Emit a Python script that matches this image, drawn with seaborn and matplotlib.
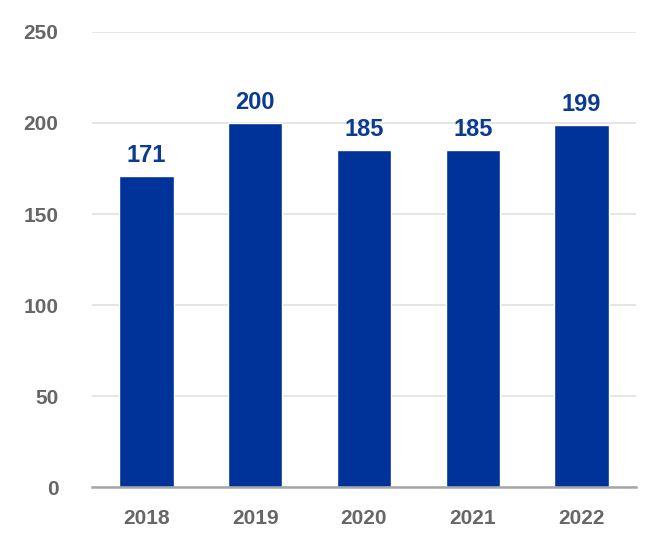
import matplotlib
matplotlib.use("Agg")
import matplotlib.pyplot as plt
import seaborn as sns
import pandas as pd
from matplotlib import font_manager

years = ["2018", "2019", "2020", "2021", "2022"]
counts = [171, 200, 185, 185, 199]
y_ticks = [0, 50, 100, 150, 200, 250]

bar_color = "#003399"
label_color = "#0a3a94"
tick_color = "#666666"

sns.set_theme(style="white")
names = {f.name for f in font_manager.fontManager.ttflist}
family = ["Liberation Sans Narrow", "Liberation Sans", "DejaVu Sans"]
plt.rcParams["font.family"] = [f for f in family if f in names] or ["DejaVu Sans"]

df = pd.DataFrame({"year": years, "count": counts})

fig, ax = plt.subplots(figsize=(6.66, 5.60), dpi=100)
fig.subplots_adjust(left=0.138, right=0.955, top=0.943, bottom=0.13)

sns.barplot(data=df, x="year", y="count", color=bar_color, saturation=1,
            width=0.5, ax=ax, zorder=3)

for p, v in zip(ax.patches, counts):
    ax.text(p.get_x() + p.get_width() / 2, v + 5, str(v), ha="center", va="bottom",
            fontsize=17, fontweight="bold", color=label_color)

ax.set_ylim(0, 250)
ax.set_yticks(y_ticks)
ax.yaxis.grid(True, color="#e3e3e3", linewidth=1.3, zorder=0)
ax.set_xlabel("")
ax.set_ylabel("")
for s in ["top", "right", "left"]:
    ax.spines[s].set_visible(False)
ax.spines["bottom"].set_color("#a6a6a6")
ax.spines["bottom"].set_linewidth(1.8)
ax.spines["bottom"].set_zorder(4)
ax.tick_params(axis="both", length=0, labelsize=15, labelcolor=tick_color)
ax.tick_params(axis="y", pad=24)
ax.tick_params(axis="x", pad=16)
for t in ax.get_xticklabels() + ax.get_yticklabels():
    t.set_fontweight("bold")

fig.savefig("out.png", dpi=100)
